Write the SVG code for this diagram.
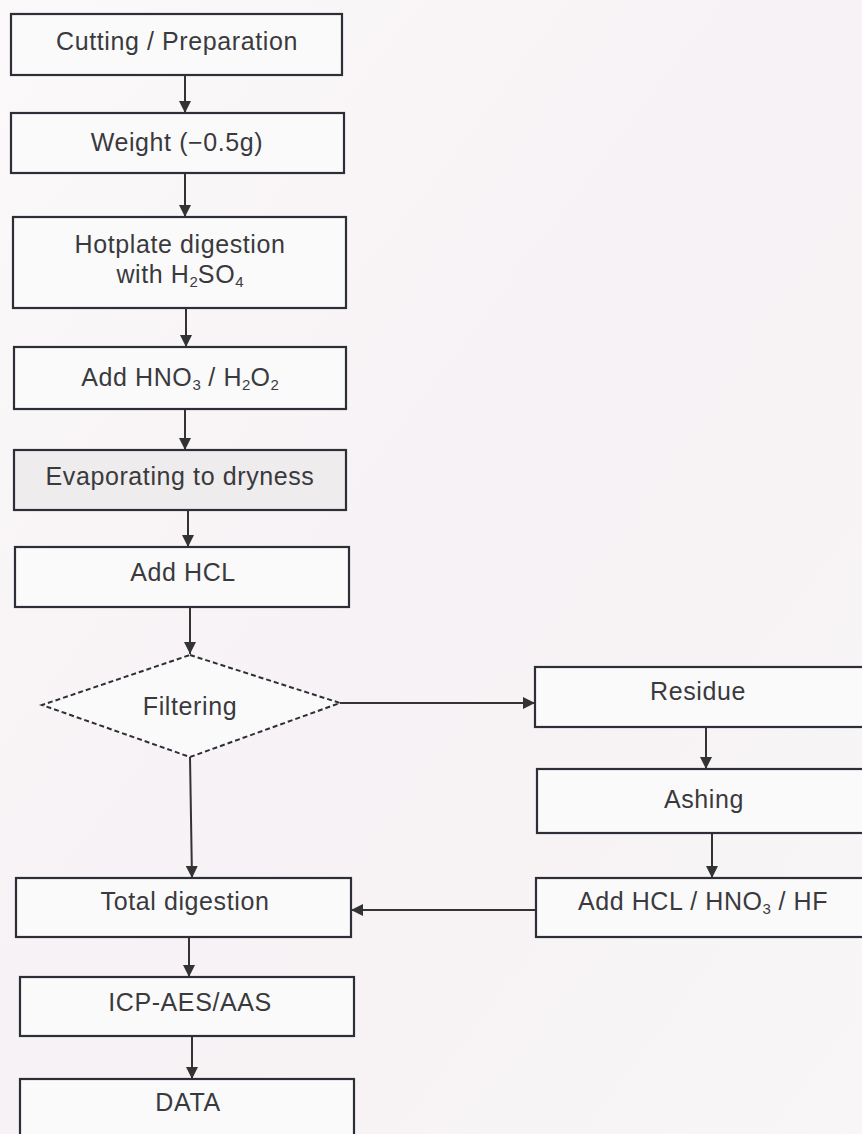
<svg xmlns="http://www.w3.org/2000/svg" width="862" height="1134" viewBox="0 0 862 1134">
<defs>
<style>
.box{fill:#fbfafb;stroke:#2e2e36;stroke-width:2.2}
.shade{fill:#eeeced}
.dia{fill:#fbfafb;stroke:#2e2e36;stroke-width:2;stroke-dasharray:5 3}
.lbl{font-family:"Liberation Sans",Arial,sans-serif;font-size:25px;letter-spacing:0.6px;fill:#3a3a3e;text-anchor:middle}
.sub{font-size:15px;letter-spacing:0}
.con{stroke:#333;stroke-width:2;fill:none;marker-end:url(#ah)}
</style>
<marker id="ah" viewBox="0 0 10 10" refX="10" refY="5" markerWidth="6" markerHeight="6" markerUnits="strokeWidth" orient="auto">
<path d="M0,0 L10,5 L0,10 z" fill="#333"/>
</marker>
<linearGradient id="bg" x1="0" y1="0" x2="1" y2="1">
<stop offset="0" stop-color="#fbf9fa"/>
<stop offset="0.5" stop-color="#f7f2f5"/>
<stop offset="1" stop-color="#f8f6f6"/>
</linearGradient>
</defs>
<rect x="0" y="0" width="862" height="1134" fill="url(#bg)"/>

<g id="connectors">
<line class="con" x1="185" y1="75" x2="185" y2="113"/>
<line class="con" x1="185" y1="173" x2="185" y2="217"/>
<line class="con" x1="186" y1="308" x2="186" y2="347"/>
<line class="con" x1="185" y1="409" x2="185" y2="450"/>
<line class="con" x1="188" y1="510" x2="188" y2="547"/>
<line class="con" x1="190" y1="607" x2="190" y2="654"/>
<line class="con" x1="340" y1="703" x2="535" y2="703"/>
<line class="con" x1="706" y1="727" x2="706" y2="769"/>
<line class="con" x1="712" y1="833" x2="712" y2="878"/>
<line class="con" x1="536" y1="910" x2="351" y2="910"/>
<line class="con" x1="190" y1="757" x2="192" y2="878"/>
<line class="con" x1="189" y1="937" x2="189" y2="977"/>
<line class="con" x1="192" y1="1036" x2="192" y2="1079"/>
</g>

<g id="n1"><rect class="box" x="11" y="14" width="331" height="61"/><text class="lbl" x="177" y="50">Cutting / Preparation</text></g>
<g id="n2"><rect class="box" x="11" y="113" width="333" height="60"/><text class="lbl" x="177" y="151">Weight (−0.5g)</text></g>
<g id="n3"><rect class="box" x="13" y="217" width="333" height="91"/><text class="lbl" x="180" y="253">Hotplate digestion</text><text class="lbl" x="180" y="283">with H<tspan class="sub" dy="4">2</tspan><tspan dy="-4">SO</tspan><tspan class="sub" dy="4">4</tspan></text></g>
<g id="n4"><rect class="box" x="14" y="347" width="332" height="62"/><text class="lbl" x="180" y="386">Add HNO<tspan class="sub" dy="4">3</tspan><tspan dy="-4"> / H</tspan><tspan class="sub" dy="4">2</tspan><tspan dy="-4">O</tspan><tspan class="sub" dy="4">2</tspan></text></g>
<g id="n5"><rect class="box shade" x="14" y="450" width="332" height="60"/><text class="lbl" x="180" y="485">Evaporating to dryness</text></g>
<g id="n6"><rect class="box" x="15" y="547" width="334" height="60"/><text class="lbl" x="183" y="581">Add HCL</text></g>
<g id="n7"><polygon class="dia" points="190,655 340,703 190,757 42,705"/><text class="lbl" x="190" y="715">Filtering</text></g>
<g id="n8"><rect class="box" x="535" y="667" width="340" height="60"/><text class="lbl" x="698" y="700">Residue</text></g>
<g id="n9"><rect class="box" x="537" y="769" width="340" height="64"/><text class="lbl" x="704" y="808">Ashing</text></g>
<g id="n10"><rect class="box" x="536" y="878" width="340" height="59"/><text class="lbl" x="703" y="910">Add HCL / HNO<tspan class="sub" dy="4">3</tspan><tspan dy="-4"> / HF</tspan></text></g>
<g id="n11"><rect class="box" x="16" y="878" width="335" height="59"/><text class="lbl" x="185" y="910">Total digestion</text></g>
<g id="n12"><rect class="box" x="20" y="977" width="334" height="59"/><text class="lbl" x="190" y="1011">ICP-AES/AAS</text></g>
<g id="n13"><rect class="box" x="20" y="1079" width="334" height="70"/><text class="lbl" x="188" y="1111">DATA</text></g>
</svg>
